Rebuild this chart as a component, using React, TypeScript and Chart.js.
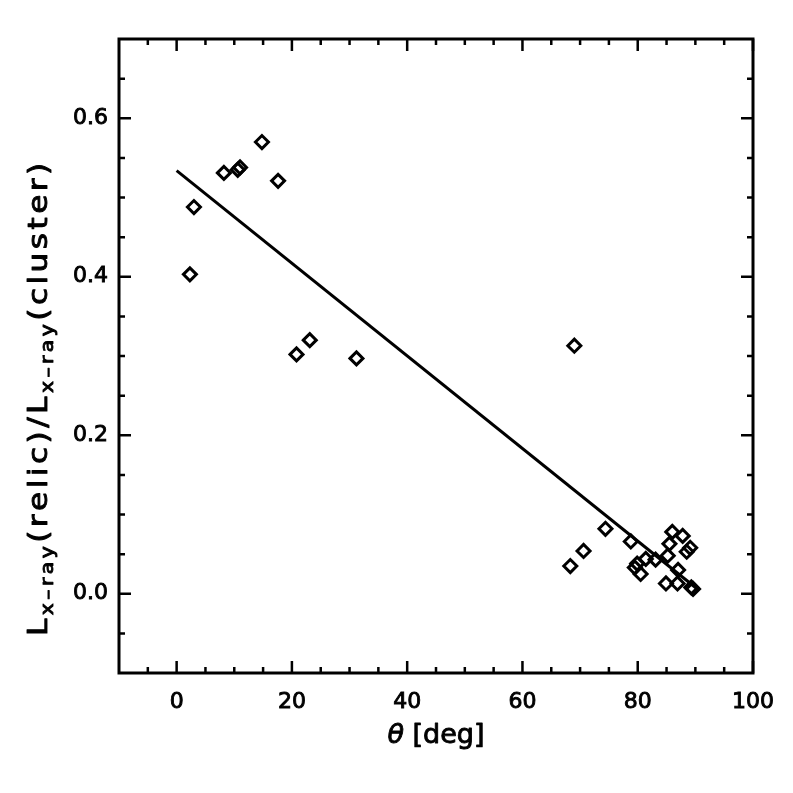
import React, { useEffect, useRef } from 'react';
import { Chart, registerables } from 'chart.js';

Chart.register(...registerables);

// measured relics: viewing angle vs. X-ray luminosity ratio
const thetaDeg = [
  2.3, 3.0, 8.2, 10.6, 11.0, 14.8, 17.6, 20.8, 23.1, 31.2, 69.0,
  68.3, 70.6, 74.4, 78.8, 79.5, 79.9, 80.5, 81.4, 83.1, 85.2, 85.5,
  86.0, 87.8, 88.5, 89.1, 87.0, 84.9, 86.9, 89.3, 89.6,
];
const lumRatio = [
  0.403, 0.488, 0.531, 0.535, 0.538, 0.570, 0.521, 0.302, 0.320, 0.297, 0.313,
  0.035, 0.054, 0.082, 0.066, 0.033, 0.038, 0.025, 0.044, 0.043, 0.048, 0.063,
  0.078, 0.073, 0.053, 0.058, 0.030, 0.013, 0.013, 0.008, 0.006,
];

// linear fit, end points
const fitTheta = [0, 90.5];
const fitRatio = [0.534, 0.005];

// axes
const xLabelTicks = [0, 20, 40, 60, 80, 100];
const xMinorTicks = [-5, 5, 10, 15, 25, 30, 35, 45, 50, 55, 65, 70, 75, 85, 90, 95];
const yLabelTicks = [0, 0.2, 0.4, 0.6];
const yMinorTicks = [-0.05, 0.05, 0.1, 0.15, 0.25, 0.3, 0.35, 0.45, 0.5, 0.55, 0.65];

const FONT = "'DejaVu Sans', sans-serif";

// filled text with a thin outline, to get the medium stroke of the original
const heavyText = (ctx: CanvasRenderingContext2D, txt: string, x: number, y: number) => {
  ctx.fillText(txt, x, y);
  ctx.strokeText(txt, x, y);
};

// IDL-style box: frame, inward ticks on all four sides, axis titles
const idlFrame = {
  id: 'idlFrame',
  afterDraw(chart: any) {
    const { ctx, chartArea: a, scales } = chart;
    const xs = scales.x;
    const ys = scales.y;
    ctx.save();
    ctx.strokeStyle = '#000';
    ctx.lineWidth = 3;
    ctx.strokeRect(a.left, a.top, a.right - a.left, a.bottom - a.top);

    ctx.lineWidth = 2.5;
    ctx.beginPath();
    const xTick = (v: number, len: number) => {
      const px = xs.getPixelForValue(v);
      ctx.moveTo(px, a.bottom);
      ctx.lineTo(px, a.bottom - len);
      ctx.moveTo(px, a.top);
      ctx.lineTo(px, a.top + len);
    };
    const yTick = (v: number, len: number) => {
      const py = ys.getPixelForValue(v);
      ctx.moveTo(a.left, py);
      ctx.lineTo(a.left + len, py);
      ctx.moveTo(a.right, py);
      ctx.lineTo(a.right - len, py);
    };
    xLabelTicks.forEach((v) => xTick(v, 12));
    xMinorTicks.forEach((v) => xTick(v, 6));
    yLabelTicks.forEach((v) => yTick(v, 12));
    yMinorTicks.forEach((v) => yTick(v, 6));
    ctx.stroke();

    ctx.fillStyle = '#000';
    ctx.lineWidth = 0.9;
    ctx.lineJoin = 'round';
    ctx.textBaseline = 'alphabetic';

    // x title
    ctx.font = `italic 27px ${FONT}`;
    const thW = ctx.measureText('θ').width;
    ctx.font = `27px ${FONT}`;
    const restW = ctx.measureText(' [deg]').width;
    const cx = (a.left + a.right) / 2;
    const x0 = cx - (thW + restW) / 2;
    ctx.font = `italic 27px ${FONT}`;
    heavyText(ctx, 'θ', x0, 743);
    ctx.font = `27px ${FONT}`;
    heavyText(ctx, ' [deg]', x0 + thW, 743);

    // y title, rotated, with subscripts; wide glyphs as in the original
    const parts: [string, boolean][] = [
      ['L', false], ['x–ray', true], ['(relic)/L', false], ['x–ray', true], ['(cluster)', false],
    ];
    const fontOf = (sub: boolean) => (sub ? `17px ${FONT}` : `26px ${FONT}`);
    const stretch = 1.2;
    let natural = 0;
    let nChars = 0;
    parts.forEach(([txt, sub]) => {
      ctx.font = fontOf(sub);
      natural += ctx.measureText(txt).width * stretch;
      nChars += txt.length;
    });
    const spacing = Math.max(0, (476 - natural) / nChars);
    ctx.translate(47, 636);
    ctx.rotate(-Math.PI / 2);
    let pos = 0;
    parts.forEach(([txt, sub]) => {
      ctx.font = fontOf(sub);
      for (const ch of txt) {
        ctx.save();
        ctx.translate(pos, sub ? 6 : 0);
        ctx.scale(stretch, 1);
        heavyText(ctx, ch, 0, 0);
        ctx.restore();
        pos += ctx.measureText(ch).width * stretch + spacing;
      }
    });
    ctx.restore();
  },
};

const tickFont = { family: FONT, size: 22 };

const App: React.FC = () => {
  const canvasRef = useRef<HTMLCanvasElement>(null);

  useEffect(() => {
    if (!canvasRef.current) return;
    const chart = new Chart(canvasRef.current, {
      type: 'scatter',
      data: {
        datasets: [
          {
            label: 'relics',
            data: thetaDeg.map((t, i) => ({ x: t, y: lumRatio[i] })),
            pointStyle: 'rectRot',
            pointRadius: 6.5,
            borderWidth: 3,
            borderColor: '#000',
            backgroundColor: 'rgba(0,0,0,0)',
          },
          {
            label: 'fit',
            data: fitTheta.map((t, i) => ({ x: t, y: fitRatio[i] })),
            showLine: true,
            pointRadius: 0,
            borderWidth: 3,
            borderColor: '#000',
          },
        ],
      },
      options: {
        animation: false,
        responsive: true,
        maintainAspectRatio: false,
        layout: { padding: { top: 39, right: 40, left: 0, bottom: 0 } },
        plugins: { legend: { display: false }, tooltip: { enabled: false } },
        scales: {
          x: {
            type: 'linear',
            min: -10,
            max: 100,
            grid: { display: false, drawTicks: false },
            border: { display: false },
            afterBuildTicks: (scale: any) => {
              scale.ticks = xLabelTicks.map((v) => ({ value: v }));
            },
            afterFit: (scale: any) => {
              scale.height = 120;
            },
            ticks: {
              color: '#000',
              font: tickFont,
              textStrokeColor: '#000',
              textStrokeWidth: 0.9,
              padding: 16,
              maxRotation: 0,
              callback: (v: any) => String(v),
            },
          },
          y: {
            type: 'linear',
            min: -0.1,
            max: 0.7,
            grid: { display: false, drawTicks: false },
            border: { display: false },
            afterBuildTicks: (scale: any) => {
              scale.ticks = yLabelTicks.map((v) => ({ value: v }));
            },
            afterFit: (scale: any) => {
              scale.width = 119;
            },
            ticks: {
              color: '#000',
              font: tickFont,
              textStrokeColor: '#000',
              textStrokeWidth: 0.9,
              padding: 11,
              callback: (v: any) => Number(v).toFixed(1),
            },
          },
        },
      },
      plugins: [idlFrame],
    });
    return () => chart.destroy();
  }, []);

  return (
    <div style={{ position: 'absolute', left: 0, top: 0, width: 793, height: 793, background: '#fff' }}>
      <canvas ref={canvasRef} />
    </div>
  );
};

export default App;
